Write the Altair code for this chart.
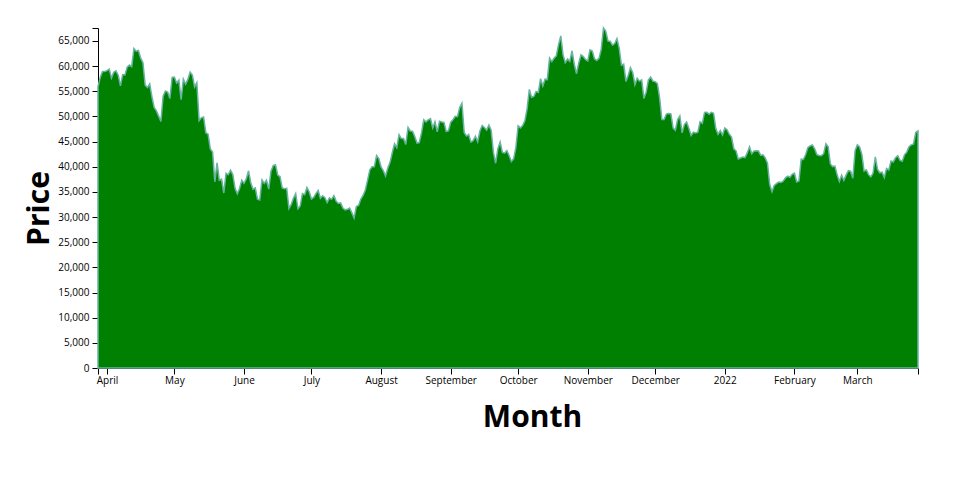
import altair as alt
import pandas as pd

start_date = "2021-03-28"
end_date = "2022-03-28"

mar21 = [55947, 57750, 58918, 58918]
apr21 = [59095, 59384, 57604, 58760, 59057, 58192, 56048, 58323, 58245, 59793,
         60204, 59893, 63504, 62969, 63110, 61572, 60684, 56217, 55724, 56474,
         53906, 51763, 51094, 50050, 49004, 54022, 55034, 54825, 53555, 57750]
may21 = [57828, 56631, 57200, 53333, 57424, 56397, 57357, 58803, 58232, 55859,
         56704, 49150, 49716, 49880, 46760, 46456, 43537, 42910, 37002, 40782,
         37304, 37536, 34770, 38705, 38402, 39294, 38436, 35697, 34616, 35678, 37332]
jun21 = [36684, 37575, 39187, 36825, 35520, 35796, 33552, 33380, 37388, 36702,
         37313, 35551, 39097, 40218, 40406, 38347, 38053, 35787, 35615, 35698,
         31676, 32505, 33723, 34662, 31637, 32186, 34649, 34434, 35867, 35040]
jul21 = [33572, 33897, 34668, 35287, 33746, 34235, 33855, 32877, 33798, 33520,
         34240, 33155, 32702, 32822, 31780, 31421, 31533, 31796, 30817, 29807,
         32110, 32313, 33581, 34292, 35350, 37337, 39406, 39995, 40008, 42235, 41626]
aug21 = [39975, 39201, 38152, 39747, 40869, 42816, 44555, 43798, 46365, 45585,
         45593, 44428, 47793, 47097, 47047, 46004, 44695, 44801, 46717, 49339,
         48905, 49321, 49546, 47706, 48960, 46942, 49058, 48897, 48807, 46991, 47166]
sep21 = [48847, 49327, 50025, 49944, 51753, 52633, 46811, 46091, 46391, 44883,
         45201, 46063, 44963, 47092, 48177, 47783, 47267, 48278, 47260, 42844,
         40693, 43574, 44895, 42839, 42716, 43208, 42236, 41034, 41564, 43790]
oct21 = [48116, 47711, 48199, 49112, 51514, 55361, 53805, 53967, 54968, 54771,
         57484, 56041, 57401, 57321, 61593, 60892, 61553, 62026, 64262, 65993,
         62210, 60692, 61393, 60931, 63039, 60364, 58482, 60622, 62228, 61889, 61319]
nov21 = [61005, 63227, 62971, 61453, 61125, 61528, 63327, 67566, 66971, 64995,
         64950, 64156, 64470, 65466, 63557, 60161, 60369, 56943, 58119, 59697,
         58730, 56289, 57570, 57005, 57229, 53569, 54816, 57248, 57806, 57005]
dec21 = [56908, 56508, 53633, 49368, 49396, 50471, 50589, 50504, 47672, 47243,
         49362, 50099, 46737, 48379, 48896, 47665, 46203, 46848, 46707, 46880,
         48936, 48628, 50784, 50822, 50429, 50809, 50640, 47588, 46444, 47178, 46306]
jan22 = [47686, 47345, 46458, 45897, 43569, 43160, 41558, 41734, 41912, 41821,
         42735, 43949, 42591, 43099, 43177, 43113, 42250, 42375, 41744, 40680,
         36457, 35030, 36276, 36654, 36954, 36852, 37138, 37784, 38138, 37917, 38483]
feb22 = [38743, 36952, 37154, 41500, 41441, 42412, 43840, 44118, 44338, 43565,
         42407, 42244, 42197, 42586, 44575, 43961, 40538, 40030, 40122, 38431,
         37075, 38286, 37296, 38332, 39214, 39105, 37709, 43193]
mar22 = [44354, 43924, 42451, 39137, 39400, 38420, 37988, 38730, 41941, 39439,
         38794, 38904, 37849, 39666, 39338, 41143, 40951, 41801, 42190, 41247,
         41077, 42358, 42892, 43960, 44349, 44500, 46820, 47128]

prices = (mar21 + apr21 + may21 + jun21 + jul21 + aug21 + sep21 + oct21 +
          nov21 + dec21 + jan22 + feb22 + mar22)
dates = pd.date_range(start_date, end_date, freq="D")
assert len(dates) == len(prices)

df = pd.DataFrame({"date": dates.strftime("%Y-%m-%d"), "price": prices})

def ms(s):
    return int(pd.Timestamp(s, tz="UTC").value // 10**6)

month_starts = [d.strftime("%Y-%m-%d") for d in pd.date_range("2021-04-01", "2022-03-01", freq="MS")]
x_values = [ms(start_date)] + [ms(d) for d in month_starts] + [ms(end_date)]

ymax = max(prices)
y_values = list(range(0, 70000, 5000))
y_values = [v for v in y_values if v <= ymax] + [ymax]

font = "Open Sans"

chart = alt.Chart(df).mark_area(
    color="green", stroke="#69b3a2", strokeWidth=1.5
).encode(
    x=alt.X("date:T",
            scale=alt.Scale(type="utc", nice=False,
                            domain=[ms(start_date), ms(end_date)]),
            axis=alt.Axis(
                title="Month", values=x_values,
                labelExpr="utcdate(datum.value) == 1 ? (utcmonth(datum.value) == 0 ? utcFormat(datum.value, '%Y') : utcFormat(datum.value, '%B')) : ''",
                grid=False, tickSize=6, labelPadding=1, labelFont=font, labelFontSize=10,
                labelColor="black", tickColor="black", domainColor="black",
                titleFont=font, titleFontSize=30, titleFontWeight="bold", titleColor="black",
                titleX=434, titleY=58, titleBaseline="alphabetic", titleAnchor="middle",
                labelFlush=False, labelOverlap=False)),
    y=alt.Y("price:Q",
            scale=alt.Scale(domain=[0, ymax], nice=False, zero=True),
            axis=alt.Axis(
                title="Price", values=y_values,
                labelExpr="datum.value % 5000 == 0 ? format(datum.value, ',') : ''",
                grid=False, tickSize=6, labelPadding=3, labelFont=font, labelFontSize=10,
                labelColor="black", tickColor="black", domainColor="black",
                titleFont=font, titleFontSize=30, titleFontWeight="bold", titleColor="black",
                titleX=-50, titleY=180, titleBaseline="alphabetic", titleAngle=-90,
                labelFlush=False, labelOverlap=False)),
).properties(
    width=820, height=340,
    autosize=alt.AutoSizeParams(type="none"),
    padding={"left": 90, "top": 20, "right": 20, "bottom": 80},
).configure_view(stroke=None)

chart.save("out.html", embed_options={"renderer": "svg", "actions": False})
